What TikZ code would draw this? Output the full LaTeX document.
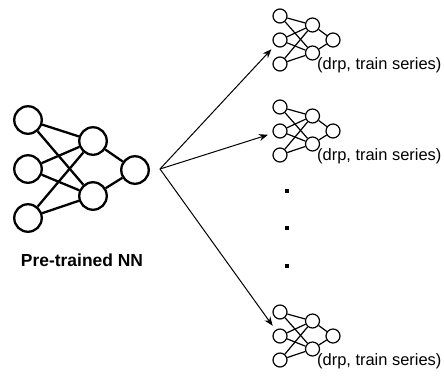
\documentclass[tikz,border=0pt]{standalone}
\usepackage{fontspec}
\setmainfont{Liberation Sans}
\usetikzlibrary{arrows.meta}
\tikzset{
 bigneuron/.style={circle,draw,line width=2.3bp,minimum size=27.5bp,inner sep=0pt},
 smallneuron/.style={circle,draw,line width=1.2bp,minimum size=14bp,inner sep=0pt},
 bigedge/.style={line width=2.3bp},
 smalledge/.style={line width=1.2bp},
 arr/.style={-{Stealth[length=9bp,width=7bp]},line width=1bp,shorten >=5bp},
 dotsq/.style={fill=black,minimum size=3.5bp,inner sep=0pt},
 nnlabel/.style={font=\fontsize{17.5}{20}\selectfont\bfseries,inner sep=0pt},
 sublabel/.style={font=\fontsize{16.5}{19}\selectfont,inner sep=0pt,anchor=west}
}
\newcommand\mysmallnn[2]{%
 \node[smallneuron] (#1i1) at (280,{#2-24}) {};
 \node[smallneuron] (#1i2) at (280,#2) {};
 \node[smallneuron] (#1i3) at (280,{#2+24}) {};
 \node[smallneuron] (#1h1) at (312.5,{#2-15}) {};
 \node[smallneuron] (#1h2) at (312.5,{#2+13}) {};
 \node[smallneuron] (#1o) at (333,#2) {};
 \foreach \a in {1,2,3}{\foreach \b in {1,2}{\draw[smalledge] (#1i\a) -- (#1h\b);}}
 \foreach \b in {1,2}{\draw[smalledge] (#1h\b) -- (#1o);}
 \node[sublabel] (#1lab) at (317,{#2+25}) {(drp, train series)};
}
\begin{document}
\begin{tikzpicture}[x=1bp,y=-1bp]
\useasboundingbox (0,0) rectangle (444,377);
% big network
\node[bigneuron] (bi1) at (28,120) {};
\node[bigneuron] (bi2) at (28,169) {};
\node[bigneuron] (bi3) at (28,218) {};
\node[bigneuron] (bh1) at (93,141) {};
\node[bigneuron] (bh2) at (93,196) {};
\node[bigneuron] (bo) at (135,170) {};
\foreach \a in {1,2,3}{\foreach \b in {1,2}{\draw[bigedge] (bi\a) -- (bh\b);}}
\foreach \b in {1,2}{\draw[bigedge] (bh\b) -- (bo);}
\node[nnlabel] (blab) at (82,260) {Pre-trained NN};
% small networks
\mysmallnn{sa}{40}
\mysmallnn{sb}{131}
\mysmallnn{sc}{336}
% dots
\node[dotsq] (d1) at (287,191) {};
\node[dotsq] (d2) at (287,228) {};
\node[dotsq] (d3) at (287,266) {};
% arrows
\coordinate (src) at (160,169);
\draw[arr] (src) -- (sai2);
\draw[arr] (src) -- (sbi2);
\draw[arr] (src) -- (sci2);
\end{tikzpicture}
\end{document}
